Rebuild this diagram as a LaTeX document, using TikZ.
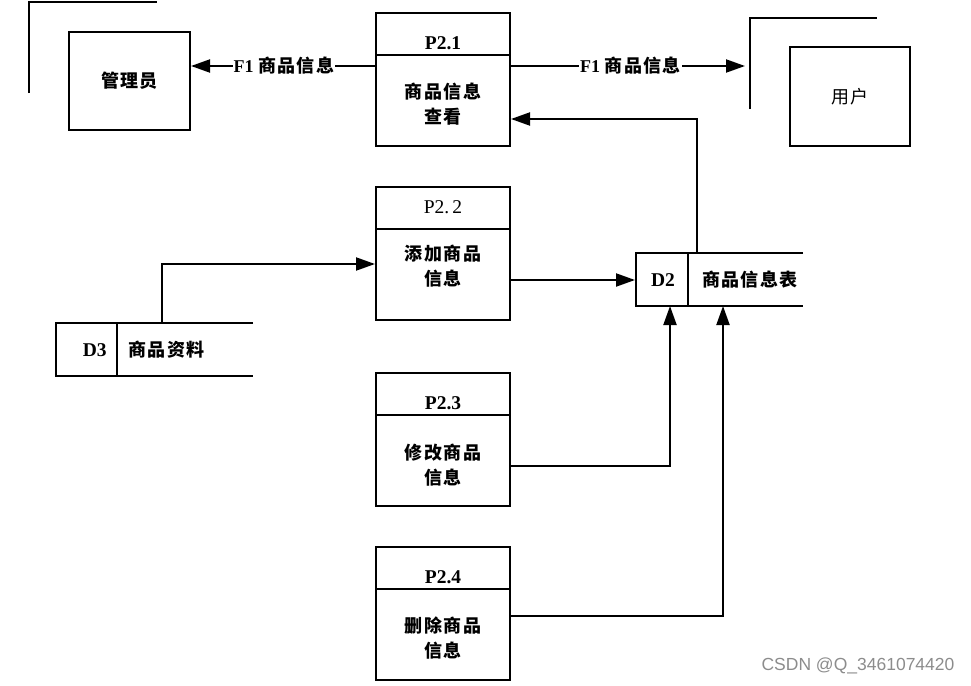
\documentclass[tikz,border=0pt]{standalone}
\usepackage{fontspec}
\setmainfont{Liberation Serif}
\newfontfamily\cjk[LetterSpace=8]{Noto Sans CJK SC}
\newfontfamily\wm{Liberation Sans}
\usetikzlibrary{arrows.meta}
\begin{document}
\begin{tikzpicture}[x=1pt,y=-1pt,line width=2pt,
  arr/.style={-{Triangle[length=19pt,width=13pt]}},
  proc/.style={draw,minimum width=134pt,minimum height=133pt,inner sep=0pt},
  ent/.style={draw,inner sep=0pt},
  ghost/.style={inner sep=0pt,minimum width=167pt,minimum height=53pt},
  hdr/.style={font=\fontsize{19.5}{22}\selectfont\bfseries},
  hdrr/.style={font=\fontsize{19.5}{22}\selectfont},
  body/.style={font=\fontsize{18}{25}\selectfont\cjk\bfseries,align=center},
  bodyr/.style={font=\fontsize{18}{25}\selectfont\cjk,align=center},
  lbl/.style={fill=white,inner sep=1pt,font=\fontsize{18}{20}\selectfont\bfseries}]
\useasboundingbox (0,0) rectangle (971,685);

% external entities
\node[ent,minimum width=121pt,minimum height=98pt] (gly) at (129.5,81) {};
\node[body] (glyt) at (129.5,81) {管理员};
\coordinate (gc1) at (29,93); \coordinate (gc2) at (29,2); \coordinate (gc3) at (157,2);
\draw (gc1) -- (gc2) -- (gc3);

\node[ent,minimum width=120pt,minimum height=99pt] (yh) at (850,96.5) {};
\node[bodyr] (yht) at (850,97) {用户};
\coordinate (uc1) at (750,109); \coordinate (uc2) at (750,18); \coordinate (uc3) at (877,18);
\draw (uc1) -- (uc2) -- (uc3);

% processes
\foreach \n/\y in {p21/79.5,p22/253,p23/439.5,p24/613.5}{
  \node[proc] (\n) at (443,\y) {};
  \draw ([yshift=-43pt]\n.north west) -- ([yshift=-43pt]\n.north east);
}
\node[hdr] (p21h) at (443,43) {P2.1};
\node[body] (p21b) at (443,104) {商品信息\\查看};
\node[hdrr] (p22h) at (443,207) {P2.\,2};
\node[body] (p22b) at (443,266) {添加商品\\信息};
\node[hdr] (p23h) at (443,403) {P2.3};
\node[body] (p23b) at (443,465) {修改商品\\信息};
\node[hdr] (p24h) at (443,577) {P2.4};
\node[body] (p24b) at (443,638) {删除商品\\信息};

% data stores
\draw (803,253) -- (636,253) -- (636,306) -- (803,306);
\draw (688,253) -- (688,306);
\node[ghost] (d2) at (719.5,279.5) {};
\node[hdr] (d2a) at (663,280) {D2};
\node[body] (d2b) at (750,280) {商品信息表};

\draw (253,323) -- (56,323) -- (56,376) -- (253,376);
\draw (117,323) -- (117,376);
\node[ghost,minimum width=197pt] (d3) at (154.5,349.5) {};
\node[hdr,anchor=east] (d3a) at (111,350) {D3};
\node[body,anchor=west] (d3b) at (124,350) {商品资料};

% flows
\coordinate (f1l) at ([yshift=-54pt]p21.north west);
\coordinate (f1r) at ([yshift=-54pt]p21.north east);
\draw[arr] (f1l) -- node[lbl,pos=0.495] {F1 {\cjk 商品信息}} (f1l -| gly.east);
\draw[arr,shorten >=5pt] (f1r) -- node[lbl,pos=0.5] {F1 {\cjk 商品信息}} (f1r -| uc2);

\coordinate (d2t) at (697,253);
\coordinate (p21in) at ([yshift=-39.5pt]p21.east);
\draw[arr] (d2t) |- (p21in);

\coordinate (d3t) at (162,323);
\coordinate (p22in) at ([yshift=-11pt]p22.west);
\draw[arr] (d3t) |- (p22in);

\coordinate (p22out) at ([yshift=-27pt]p22.east);
\draw[arr] (p22out) -- (p22out -| d2.west);

\coordinate (d2s1) at (670,306);
\coordinate (d2s2) at (723,306);
\draw[arr] ([yshift=-26.5pt]p23.east) -| (d2s1);
\draw[arr] ([yshift=-2.5pt]p24.east) -| (d2s2);

\node[font=\wm\fontsize{17.5}{19}\selectfont,text=black!45] (wmk) at (858,666) {CSDN @Q\_3461074420};
\end{tikzpicture}
\end{document}
